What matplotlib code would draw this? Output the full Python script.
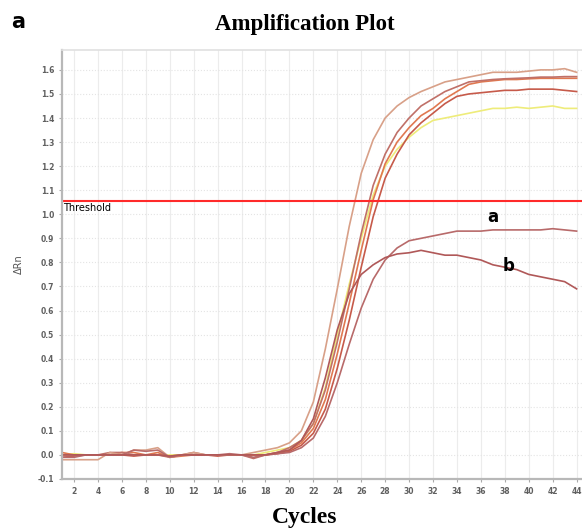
import matplotlib
matplotlib.use("Agg")
import matplotlib.pyplot as plt

# cycle numbers
cycles = list(range(1, 45))

# ΔRn readings per cycle
curve_tan = [-0.02, -0.02, -0.02, -0.02, 0.01, 0.0, 0.02, 0.02, 0.03, -0.01,
             0.0, 0.01, 0.0, 0.0, 0.0, 0.0, 0.01, 0.02, 0.03, 0.05,
             0.10, 0.22, 0.44, 0.69, 0.95, 1.17, 1.31, 1.40, 1.45, 1.485,
             1.51, 1.53, 1.55, 1.56, 1.57, 1.58, 1.59, 1.59, 1.59, 1.595,
             1.60, 1.60, 1.605, 1.59]
curve_red1 = [0.0, 0.0, 0.0, 0.0, 0.01, 0.01, 0.0, 0.0, 0.0, -0.01,
              0.0, 0.01, 0.0, 0.0, 0.0, 0.0, -0.015, 0.0, 0.01, 0.03,
              0.06, 0.13, 0.27, 0.47, 0.69, 0.92, 1.12, 1.25, 1.34, 1.40,
              1.45, 1.48, 1.51, 1.53, 1.55, 1.555, 1.56, 1.563, 1.565, 1.567,
              1.57, 1.57, 1.572, 1.572]
curve_orange = [0.01, 0.0, 0.0, 0.0, 0.0, 0.01, 0.01, 0.0, 0.01, -0.01,
                -0.005, 0.0, 0.0, 0.0, 0.0, 0.0, 0.0, 0.0, 0.01, 0.02,
                0.05, 0.11, 0.23, 0.42, 0.63, 0.85, 1.06, 1.21, 1.30, 1.36,
                1.41, 1.44, 1.48, 1.51, 1.54, 1.55, 1.555, 1.56, 1.56, 1.563,
                1.565, 1.565, 1.565, 1.565]
curve_red2 = [-0.01, -0.005, 0.0, 0.0, 0.0, 0.0, -0.005, 0.0, 0.0, -0.005,
              0.0, 0.0, 0.0, -0.005, 0.0, 0.0, 0.0, 0.0, 0.005, 0.015,
              0.04, 0.09, 0.19, 0.36, 0.56, 0.78, 0.99, 1.15, 1.25, 1.33,
              1.38, 1.42, 1.46, 1.49, 1.50, 1.505, 1.51, 1.515, 1.515, 1.52,
              1.52, 1.52, 1.515, 1.51]
curve_yellow = [0.0, 0.005, 0.0, 0.0, 0.0, 0.0, 0.0, 0.0, 0.0, 0.0,
                0.0, 0.0, 0.0, 0.0, 0.0, 0.0, 0.0, 0.01, 0.02, 0.03,
                0.06, 0.13, 0.28, 0.50, 0.71, 0.90, 1.08, 1.20, 1.27, 1.32,
                1.36, 1.39, 1.40, 1.41, 1.42, 1.43, 1.44, 1.44, 1.445, 1.44,
                1.445, 1.45, 1.44, 1.44]
curve_a = [-0.01, -0.01, 0.0, 0.0, 0.0, 0.0, 0.02, 0.015, 0.02, -0.01,
           0.0, 0.0, 0.0, 0.0, 0.005, 0.0, -0.01, 0.0, 0.005, 0.01,
           0.03, 0.07, 0.16, 0.30, 0.46, 0.61, 0.73, 0.81, 0.86, 0.89,
           0.90, 0.91, 0.92, 0.93, 0.93, 0.93, 0.935, 0.935, 0.935, 0.935,
           0.935, 0.94, 0.935, 0.93]
curve_b = [0.0, 0.0, 0.0, 0.0, 0.0, 0.0, 0.0, 0.0, 0.0, -0.005,
           0.0, 0.0, 0.0, 0.0, 0.0, 0.0, 0.0, 0.0, 0.01, 0.02,
           0.06, 0.15, 0.32, 0.52, 0.67, 0.75, 0.79, 0.82, 0.835, 0.84,
           0.85, 0.84, 0.83, 0.83, 0.82, 0.81, 0.79, 0.78, 0.77, 0.75,
           0.74, 0.73, 0.72, 0.69]

curves = [curve_yellow, curve_red2, curve_orange, curve_red1, curve_tan, curve_a, curve_b]
colors = ['#eeec7a', '#c65a4a', '#e07850', '#c07068', '#d8a088', '#b86a6a', '#b05858']

threshold = 1.055

fig = plt.figure(figsize=(5.82, 5.31), dpi=100)
ax = fig.add_axes([0.106, 0.098, 0.894, 0.808])

for vals, col in zip(curves, colors):
    ax.plot(cycles, vals, color=col, lw=1.2)

ax.axhline(threshold, color='#ff2a2a', lw=1.5)
ax.text(1.1, threshold - 0.01, 'Threshold', fontsize=7, va='top', ha='left', color='black')

ax.text(37.0, 0.95, 'a', fontsize=12, fontweight='bold', ha='center', va='bottom')
ax.text(38.3, 0.785, 'b', fontsize=12, fontweight='bold', ha='center', va='center')

ax.set_xlim(0.97, 44.45)
ax.set_ylim(-0.1, 1.683)
ax.set_xticks(range(2, 45, 2))
ax.set_yticks([i / 10 for i in range(-1, 17)])
ax.set_yticklabels(['%.1f' % (i / 10) for i in range(-1, 17)])
ax.tick_params(labelsize=5.5, labelcolor='#606060', color='#aaaaaa', length=2, width=0.8)
for lab in ax.get_xticklabels() + ax.get_yticklabels():
    lab.set_fontweight('bold')

ax.grid(axis='x', color='#ececec', lw=0.8)
ax.grid(axis='y', color='#e4e4e4', lw=0.8, linestyle=':')
ax.set_axisbelow(True)

for side in ['left', 'bottom']:
    ax.spines[side].set_color('#b8b8b8')
    ax.spines[side].set_linewidth(1.6)
ax.spines['top'].set_color('#e0e0e0')
ax.spines['top'].set_linewidth(1.2)
ax.spines['right'].set_visible(False)

ax.set_ylabel('ΔRn', fontsize=7, color='#555555', labelpad=10)

fig.text(0.524, 0.953, 'Amplification Plot', family='Liberation Serif', fontsize=16.5,
         fontweight='bold', ha='center', va='center')
fig.text(0.524, 0.026, 'Cycles', family='Liberation Serif', fontsize=17,
         fontweight='bold', ha='center', va='center')
fig.text(0.031, 0.958, 'a', fontsize=15, fontweight='bold', ha='center', va='center')

fig.savefig('out.png', dpi=100)
